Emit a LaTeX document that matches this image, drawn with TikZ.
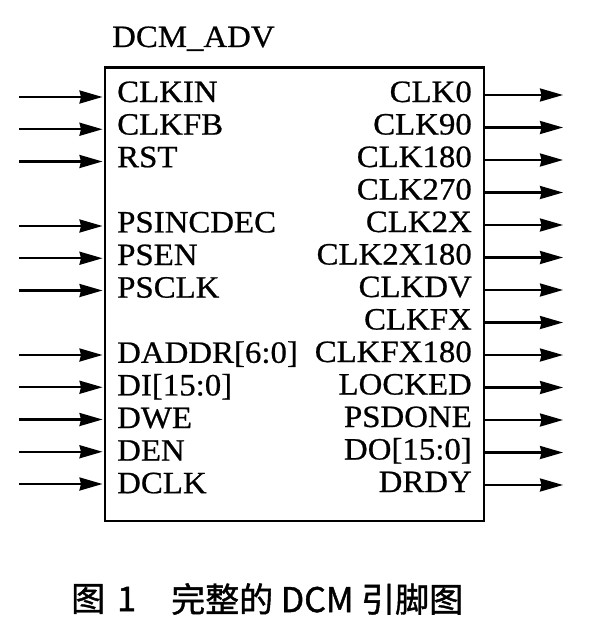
\documentclass[tikz,border=0pt]{standalone}
\usepackage{fontspec}
\setmainfont[FakeStretch=1.06,FakeBold=0.7]{Liberation Serif}
\newfontfamily\cjk[FakeBold=1.2]{Noto Sans CJK SC}
\usetikzlibrary{arrows.meta}
\tikzset{
  lab/.style={inner sep=0pt, font=\fontsize{31}{31}\selectfont},
  captext/.style={inner sep=0pt, font=\cjk\fontsize{34}{34}\selectfont},
  arr/.style={line width=2.2pt, -{Stealth[length=23pt,width=13pt,inset=1.5pt]}},
  chip/.style={draw, line width=2.6pt, inner sep=0pt, minimum width=379pt, minimum height=453.5pt}
}
\begin{document}
\begin{tikzpicture}[x=1pt,y=-1pt]
\useasboundingbox (0,0) rectangle (593,634);
\node[chip, anchor=north west] (box) at (103.5,66) {};
\node[lab, anchor=base west] (title) at (112,47) {DCM\_ADV};
\foreach \i/\t in {0/CLKIN,1/CLKFB,2/RST,4/PSINCDEC,5/PSEN,6/PSCLK,8/DADDR[6:0],9/DI[15:0],10/DWE,11/DEN,12/DCLK}{
  \node[lab, anchor=base west] (L\i) at (117,102+32.6*\i) {\t};
  \coordinate (Lin\i) at (19,97+32.25*\i);
  \draw[arr, shorten >=1pt] (Lin\i) -- (Lin\i -| box.west);
}
\foreach \i/\t in {0/CLK0,1/CLK90,2/CLK180,3/CLK270,4/CLK2X,5/CLK2X180,6/CLKDV,7/CLKFX,8/CLKFX180,9/LOCKED,10/PSDONE,11/DO[15:0],12/DRDY}{
  \node[lab, anchor=base east] (R\i) at (472,102+32.5*\i) {\t};
  \coordinate (Rout\i) at (563,95+32.5*\i);
  \draw[arr] (Rout\i -| box.east) -- (Rout\i);
}
\node[captext, anchor=west] (c1) at (71,599) {图};
\node[captext, anchor=west] (c2) at (117,599) {1};
\node[captext, anchor=west] (c3) at (171,599) {完整的 DCM 引脚图};
\end{tikzpicture}
\end{document}
